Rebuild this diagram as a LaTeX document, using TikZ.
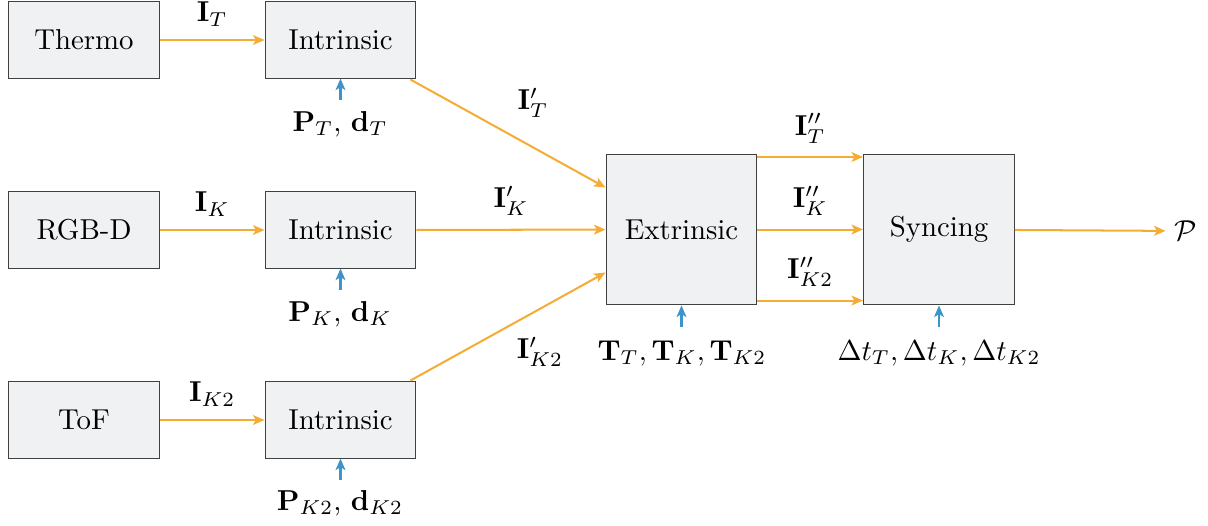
\documentclass[tikz,border=0pt]{standalone}
\usepackage{amsmath}
\usetikzlibrary{arrows.meta,calc}
\definecolor{orng}{HTML}{F5AC35}
\definecolor{blu}{HTML}{3C94C8}
\definecolor{boxfill}{HTML}{F0F1F3}
\definecolor{boxdraw}{HTML}{404040}
\tikzset{
  blk/.style={draw=boxdraw,fill=boxfill,line width=0.35pt,inner sep=0pt,minimum width=52.4pt,minimum height=26.4pt,font=\normalsize},
  sq/.style={blk,minimum height=52.4pt},
  flow/.style={draw=orng,line width=0.7pt,-{Stealth[length=4pt,width=3.4pt,inset=1pt]}},
  par/.style={draw=blu,line width=0.7pt,-{Stealth[length=4pt,width=3.4pt,inset=1pt]}},
  lbl/.style={inner sep=0pt},
  up/.style={lbl,above=4.5pt}
}
\begin{document}
\begin{tikzpicture}[x=0.3472pt,y=-0.3472pt]
\useasboundingbox (0,0) rectangle (1208,525);
% blocks
\node[blk] (th) at (84,40) {Thermo};
\node[blk] (it) at (340.5,40) {Intrinsic};
\node[blk] (rg) at (84,230) {RGB-D};
\node[blk] (ik) at (340.5,230) {Intrinsic};
\node[blk] (tf) at (84,420) {ToF};
\node[blk] (ik2) at (340.5,420) {Intrinsic};
\node[sq] (ex) at (681.5,229.5) {Extrinsic};
\node[sq] (sy) at (939,229.5) {Syncing};
\node[lbl,inner sep=3pt] (p) at (1186,231) {$\mathcal{P}$};
% parameter labels
\node[lbl] (pt) at (340,124) {$\mathbf{P}_T$, $\mathbf{d}_T$};
\node[lbl] (pk) at (340,314) {$\mathbf{P}_K$, $\mathbf{d}_K$};
\node[lbl] (pk2) at (340,503) {$\mathbf{P}_{K2}$, $\mathbf{d}_{K2}$};
\node[lbl] (tt) at (682,353) {$\mathbf{T}_T, \mathbf{T}_K, \mathbf{T}_{K2}$};
\node[lbl] (dt) at (939,353) {$\Delta t_T, \Delta t_K, \Delta t_{K2}$};
% flows
\draw[flow] (th) -- node[up]{$\mathbf{I}_T$} (it);
\draw[flow] (rg) -- node[up]{$\mathbf{I}_K$} (ik);
\draw[flow] (tf) -- node[up]{$\mathbf{I}_{K2}$} (ik2);
\coordinate (exa) at ($(ex.west)+(0,-42)$);
\coordinate (exc) at ($(ex.west)+(0,43)$);
\coordinate (ita) at ($(it.south east)+(-6,1)$);
\coordinate (ikc) at ($(ik2.north east)+(-6,-1)$);
\draw[flow] (ita) -- (exa);
\node[lbl] at (533,103) {$\mathbf{I}'_T$};
\draw[flow] (ik) -- node[up]{$\mathbf{I}'_K$} (ex);
\draw[flow] (ikc) -- (exc);
\node[lbl] at (540,352) {$\mathbf{I}'_{K2}$};
\coordinate (exo1) at ($(ex.east)+(0,-72.5)$);
\coordinate (syi1) at ($(sy.west)+(0,-72.5)$);
\coordinate (exo3) at ($(ex.east)+(0,71)$);
\coordinate (syi3) at ($(sy.west)+(0,71)$);
\draw[flow] (exo1) -- node[up]{$\mathbf{I}''_T$} (syi1);
\draw[flow] (ex) -- node[up]{$\mathbf{I}''_K$} (sy);
\draw[flow] (exo3) -- node[up]{$\mathbf{I}''_{K2}$} (syi3);
\draw[flow] (sy) -- (p);
% parameter arrows
\draw[par] ([yshift=-7.5pt]it.south) -- (it.south);
\draw[par] ([yshift=-7.5pt]ik.south) -- (ik.south);
\draw[par] ([yshift=-7.5pt]ik2.south) -- (ik2.south);
\draw[par] ([yshift=-7.5pt]ex.south) -- (ex.south);
\draw[par] ([yshift=-7.5pt]sy.south) -- (sy.south);
\end{tikzpicture}
\end{document}
